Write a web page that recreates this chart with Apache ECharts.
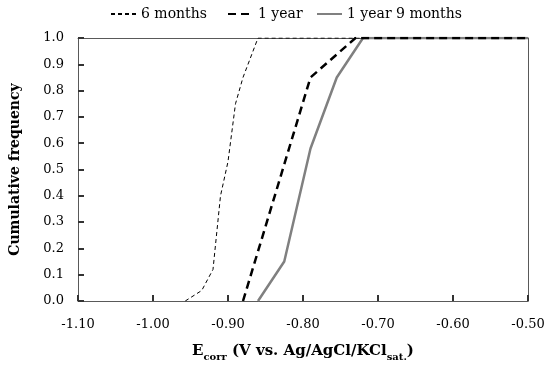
<!DOCTYPE html>
<html><head><meta charset="utf-8">
<script src="https://cdn.jsdelivr.net/npm/echarts@6/dist/echarts.min.js"></script>
<style>html,body{margin:0;padding:0;background:#fff}#c{width:550px;height:367px}</style>
</head><body><div id="c"></div>
<script>
const seriesNames = ["6 months", "1 year", "1 year 9 months"];
const x6m = [-0.957, -0.935, -0.92, -0.91, -0.90, -0.89, -0.88, -0.86, -0.50];
const y6m = [0, 0.04, 0.12, 0.40, 0.53, 0.75, 0.85, 1.0, 1.0];
const x1y = [-0.88, -0.79, -0.73, -0.50];
const y1y = [0, 0.85, 1.0, 1.0];
const x1y9m = [-0.86, -0.825, -0.79, -0.755, -0.72, -0.50];
const y1y9m = [0, 0.15, 0.58, 0.85, 1.0, 1.0];
const xTicks = [-1.10, -1.00, -0.90, -0.80, -0.70, -0.60, -0.50];
const yTicks = [0.0, 0.1, 0.2, 0.3, 0.4, 0.5, 0.6, 0.7, 0.8, 0.9, 1.0];

const xMin = xTicks[0], xMax = xTicks[xTicks.length - 1];
const yMin = yTicks[0], yMax = yTicks[yTicks.length - 1];
const pairs = (xs, ys) => xs.map((x, i) => [x, ys[i]]);
const F = "DejaVu Serif";
const AX = '#595959';
const TK = '#333333';
const legendBase = {
  top: 2, itemWidth: 25, itemHeight: 12,
  itemStyle: { opacity: 0 },
  textStyle: { fontFamily: F, fontSize: 14, color: '#000' }
};
const hidden = { show: false };
const tick = { show: true, inside: true, length: 6, lineStyle: { color: TK, width: 2 } };
const frameAxis = {
  type: 'value', axisLine: { show: true, onZero: false, lineStyle: { color: AX, width: 1 } },
  axisTick: hidden, axisLabel: hidden, splitLine: hidden
};
const chart = echarts.init(document.getElementById('c'));
chart.setOption({
  animation: false,
  backgroundColor: '#fff',
  grid: { left: 77, right: 22, top: 38, bottom: 65, show: false },
  legend: [
    Object.assign({ left: 105, data: [seriesNames[0]] }, legendBase),
    Object.assign({ left: 222, data: [seriesNames[1]] }, legendBase),
    Object.assign({ left: 311, data: [seriesNames[2]] }, legendBase)
  ],
  xAxis: [{
    type: 'value', min: xMin, max: xMax, interval: 0.1,
    axisLine: { show: true, onZero: false, lineStyle: { color: AX, width: 1 } },
    axisTick: tick,
    splitLine: hidden,
    axisLabel: { show: true, margin: 17, fontFamily: F, fontSize: 13, color: '#000', formatter: v => v.toFixed(2) },
    name: '{b|E}{s|corr}{b| (V vs. Ag/AgCl/KCl}{s|sat.}{b|)}',
    nameLocation: 'middle', nameGap: 43,
    nameTextStyle: {
      rich: {
        b: { fontFamily: F, fontWeight: 'bold', fontSize: 15, color: '#000', verticalAlign: 'bottom' },
        s: { fontFamily: F, fontWeight: 'bold', fontSize: 10, color: '#000', verticalAlign: 'bottom', padding: [0, 0, -3, 0] }
      }
    }
  },
  Object.assign({ position: 'top', min: xMin, max: xMax }, frameAxis)
  ],
  yAxis: [{
    type: 'value', min: yMin, max: yMax, interval: 0.1,
    axisLine: { show: true, onZero: false, lineStyle: { color: AX, width: 1 } },
    axisTick: tick,
    splitLine: hidden,
    axisLabel: { show: true, margin: 14, fontFamily: F, fontSize: 13, color: '#000', formatter: v => v.toFixed(1) },
    name: 'Cumulative frequency', nameLocation: 'middle', nameGap: 56,
    nameTextStyle: { fontFamily: F, fontWeight: 'bold', fontSize: 14, color: '#000' }
  },
  Object.assign({ position: 'right', min: yMin, max: yMax }, frameAxis)
  ],
  series: [
    { name: seriesNames[0], type: 'line', symbol: 'none', data: pairs(x6m, y6m),
      lineStyle: { color: '#000', width: 1, type: [4, 3] }, itemStyle: { color: '#000' } },
    { name: seriesNames[2], type: 'line', symbol: 'none', data: pairs(x1y9m, y1y9m),
      lineStyle: { color: '#808080', width: 2.5, type: 'solid' }, itemStyle: { color: '#808080' } },
    { name: seriesNames[1], type: 'line', symbol: 'none', data: pairs(x1y, y1y),
      lineStyle: { color: '#000', width: 2.5, type: [8, 5] }, itemStyle: { color: '#000' } }
  ]
});
</script></body></html>
